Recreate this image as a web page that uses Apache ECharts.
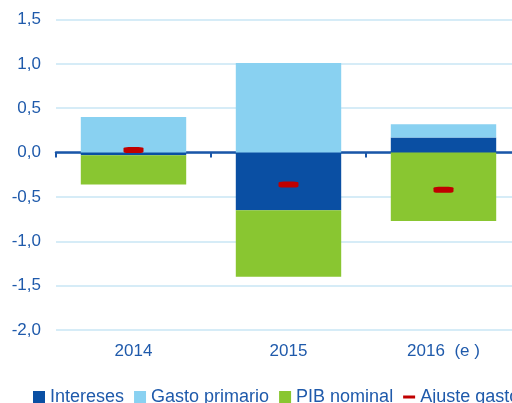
<!DOCTYPE html>
<html>
<head>
<meta charset="utf-8">
<script src="https://cdn.jsdelivr.net/npm/echarts@6/dist/echarts.min.js"></script>
<style>
  html, body { margin: 0; padding: 0; background: #fff; }
  #chart { width: 512px; height: 403px; }
</style>
</head>
<body>
<div id="chart"></div>
<script>
// categories and values
var years = ['2014', '2015', '2016  (e )'];
var intereses = [-0.03, -0.65, 0.17];
var gastoPrimario = [0.40, 1.01, 0.15];
var pibNominal = [-0.33, -0.75, -0.77];
var ajusteGasto = [0.03, -0.36, -0.42];

var textBlue = '#1f5aab';
var font = 'Liberation Sans, Arial, sans-serif';

var chart = echarts.init(document.getElementById('chart'));
chart.setOption({
    animation: false,
    textStyle: { fontFamily: font },
    // plot area runs past the right edge of the picture
    grid: { left: 56, width: 465, top: 19.5, bottom: 73, containLabel: false, outerBoundsMode: 'none' },
    legend: {
        left: 28,
        top: 383,
        width: 700,
        itemWidth: 12,
        itemHeight: 12,
        itemGap: 10,
        textStyle: { color: textBlue, fontSize: 18, fontFamily: font },
        data: [
            { name: 'Intereses', icon: 'rect' },
            { name: 'Gasto primario', icon: 'rect' },
            { name: 'PIB nominal', icon: 'rect' },
            { name: 'Ajuste gasto', icon: 'path://M0,0M12,12M0,4.5L12,4.5L12,7.5L0,7.5Z' }
        ]
    },
    xAxis: [{
        type: 'category',
        data: years,
        position: 'bottom',
        axisLine: { onZero: true, lineStyle: { color: '#1a56a8', width: 2.5 } },
        axisTick: { show: true, length: 5, lineStyle: { color: '#1a56a8', width: 2 } },
        axisLabel: { show: false }
    }, {
        type: 'category',
        data: years,
        position: 'bottom',
        axisLine: { show: false, onZero: false },
        axisTick: { show: false },
        axisLabel: { color: textBlue, fontSize: 17, margin: 13 }
    }],
    yAxis: {
        type: 'value',
        min: -2,
        max: 1.5,
        interval: 0.5,
        axisLine: { show: false },
        axisTick: { show: false },
        splitLine: { lineStyle: { color: '#c8e6f5', width: 1.5 } },
        axisLabel: {
            color: textBlue,
            fontSize: 17,
            margin: 15,
            formatter: function (v) { return v.toFixed(1).replace('.', ','); }
        }
    },
    series: [{
        name: 'Intereses',
        type: 'bar',
        stack: 'a',
        barCategoryGap: '32%',
        itemStyle: { color: '#0a4fa3' },
        data: intereses
    }, {
        name: 'Gasto primario',
        type: 'bar',
        stack: 'a',
        itemStyle: { color: '#89d1f1' },
        data: gastoPrimario
    }, {
        name: 'PIB nominal',
        type: 'bar',
        stack: 'a',
        itemStyle: { color: '#89c631' },
        data: pibNominal
    }, {
        name: 'Ajuste gasto',
        type: 'scatter',
        symbol: 'roundRect',
        symbolSize: [20, 6],
        itemStyle: { color: '#c00000', opacity: 1 },
        z: 5,
        data: ajusteGasto
    }]
});
</script>
</body>
</html>
